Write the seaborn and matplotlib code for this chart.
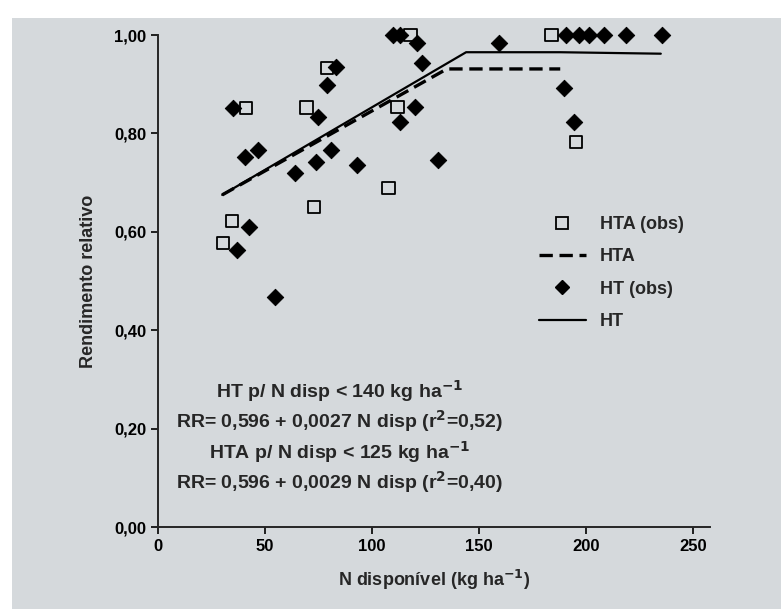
import pandas as pd
import matplotlib
matplotlib.use('Agg')
import matplotlib.pyplot as plt
import seaborn as sns
from matplotlib.lines import Line2D
from matplotlib.patches import Rectangle
from matplotlib.ticker import FuncFormatter

# Data
hta_n = [30.3, 34.5, 41, 69.5, 73, 79, 107.7, 112, 118, 184, 195.3]
hta_rr = [0.577, 0.622, 0.852, 0.853, 0.65, 0.933, 0.689, 0.854, 1.0, 1.0, 0.783]

ht_n = [35, 36.8, 40.6, 42.4, 46.6, 54.5, 64, 74, 74.6, 79, 81, 83.4, 93,
        110, 113, 113, 120, 121, 123.5, 131, 159.5, 189.7, 190.7, 194.4,
        196.7, 201.4, 208.4, 218.6, 235.4]
ht_rr = [0.852, 0.563, 0.752, 0.61, 0.766, 0.467, 0.72, 0.742, 0.833, 0.898,
         0.766, 0.935, 0.736, 1.0, 1.0, 0.823, 0.854, 0.983, 0.943, 0.746,
         0.983, 0.892, 1.0, 0.823, 1.0, 1.0, 1.0, 1.0, 1.0]

# fitted lines (linear-plateau)
hta_line_n = [30, 135, 188]
hta_line_rr = [0.675, 0.931, 0.931]
ht_line_n = [30, 144, 188, 235]
ht_line_rr = [0.675, 0.965, 0.965, 0.962]

eq_text = ["HT p/ N disp < 140 kg ha$^{-1}$",
           "RR= 0,596 + 0,0027 N disp (r$^{2}$=0,52)",
           "HTA p/ N disp < 125 kg ha$^{-1}$",
           "RR= 0,596 + 0,0029 N disp (r$^{2}$=0,40)"]

bg = '#d5d9dc'

sns.set_style('ticks')
plt.rcParams['font.family'] = ['Liberation Sans', 'DejaVu Sans']
plt.rcParams['font.weight'] = 'bold'
plt.rcParams['mathtext.default'] = 'bf'

fig = plt.figure(figsize=(7.81, 6.09), dpi=100, facecolor='white')
fig.patches.append(Rectangle((12 / 781, 0), 1, 1 - 18 / 609, transform=fig.transFigure,
                             facecolor=bg, edgecolor='none', zorder=-10))
ax = fig.add_axes([158 / 781, 82 / 609, 552 / 781, 492 / 609])
ax.set_facecolor('none')

df_hta = pd.DataFrame({'N': hta_n, 'RR': hta_rr})
df_ht = pd.DataFrame({'N': ht_n, 'RR': ht_rr})

sns.lineplot(x=hta_line_n, y=hta_line_rr, ax=ax, color='black', lw=2.4,
             linestyle=(0, (4, 2)), sort=False, estimator=None)
sns.lineplot(x=ht_line_n, y=ht_line_rr, ax=ax, color='black', lw=1.6,
             sort=False, estimator=None)
sns.scatterplot(data=df_ht, x='N', y='RR', ax=ax, marker='D', s=70,
                color='black', edgecolor='black', clip_on=False, zorder=3)
sns.scatterplot(data=df_hta, x='N', y='RR', ax=ax, marker='s', s=80,
                facecolor='none', edgecolor='black', linewidth=1.3,
                clip_on=False, zorder=4)

ax.set_xlim(0, 258)
ax.set_ylim(0, 1.0)
ax.set_xticks([0, 50, 100, 150, 200, 250])
ax.set_yticks([0, 0.2, 0.4, 0.6, 0.8, 1.0])
ax.yaxis.set_major_formatter(FuncFormatter(lambda v, p: f'{v:.2f}'.replace('.', ',')))
ax.tick_params(direction='out', length=5, width=1.2, labelsize=12, colors='black')
for s in ['top', 'right']:
    ax.spines[s].set_visible(False)
for s in ['left', 'bottom']:
    ax.spines[s].set_linewidth(1.4)

ax.set_xlabel('N disponível (kg ha$^{-1}$)', fontsize=13, fontweight='bold', labelpad=10)
ax.set_ylabel('Rendimento relativo', fontsize=13, fontweight='bold', labelpad=12)

for i, t in enumerate(eq_text):
    ax.text(85, 0.277 - i * 0.062, t, ha='center', va='center',
            fontsize=14, fontweight='bold')

handles = [
    Line2D([], [], marker='s', color='black', markerfacecolor='none', linestyle='none',
           markersize=8, markeredgewidth=1.3),
    Line2D([], [], color='black', lw=2.4, linestyle=(0, (4, 2))),
    Line2D([], [], marker='D', color='black', linestyle='none', markersize=7),
    Line2D([], [], color='black', lw=1.6),
]
ax.legend(handles, ['HTA (obs)', 'HTA', 'HT (obs)', 'HT'], loc='upper left',
          bbox_to_anchor=(0.66, 0.665), frameon=False, fontsize=13,
          labelspacing=0.85, handlelength=2.6)

fig.savefig('out.png', dpi=100, facecolor=fig.get_facecolor())
